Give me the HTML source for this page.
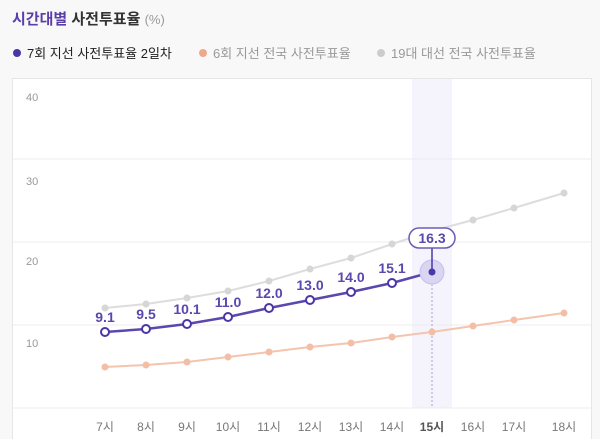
<!DOCTYPE html>
<html><head><meta charset="utf-8"><style>
body{margin:0;width:600px;height:439px;background:#f8f8f8;font-family:"Liberation Sans","Noto Sans CJK KR",sans-serif;overflow:hidden}
</style></head><body>
<svg width="600" height="439" xmlns="http://www.w3.org/2000/svg" style="position:absolute;left:0;top:0;font-family:'Liberation Sans','Noto Sans CJK KR',sans-serif">
<text x="12" y="24" font-size="15" font-weight="bold" fill="#5b3fa8">시간대별 <tspan fill="#333">사전투표율</tspan> <tspan font-weight="normal" fill="#999" font-size="13">(%)</tspan></text>
<circle cx="17" cy="53" r="4" fill="#4b36a6"/>
<text x="27" y="58" font-size="13" fill="#222">7회 지선 사전투표율 2일차</text>
<circle cx="203" cy="53" r="4" fill="#eea98a"/>
<text x="213" y="58" font-size="13" fill="#999">6회 지선 전국 사전투표율</text>
<circle cx="381" cy="53" r="4" fill="#ccc"/>
<text x="391" y="58" font-size="13" fill="#999">19대 대선 전국 사전투표율</text>
<rect x="12.5" y="78.5" width="579" height="370" fill="#fff" stroke="#e6e6e6"/>
<rect x="412" y="79" width="40" height="329" fill="#f5f4fd"/>
<g stroke="#ececec"><line x1="13" x2="591" y1="159" y2="159"/><line x1="13" x2="591" y1="242" y2="242"/><line x1="13" x2="591" y1="325" y2="325"/><line x1="13" x2="591" y1="408" y2="408"/></g>
<g font-size="11" fill="#999"><text x="26" y="101">40</text><text x="26" y="185">30</text><text x="26" y="265">20</text><text x="26" y="347">10</text></g>
<line x1="432" y1="272" x2="432" y2="408" stroke="#a99fd6" stroke-dasharray="2,2"/>
<polyline fill="none" stroke="#ddd" stroke-width="2" points="105,308 146,304 187,298 228,291 269,281 310,269 351,258 392,244 432,231 473,220 514,208 564,193"/>
<g fill="#d6d6d6"><circle cx="105" cy="308" r="3.5"/><circle cx="146" cy="304" r="3.5"/><circle cx="187" cy="298" r="3.5"/><circle cx="228" cy="291" r="3.5"/><circle cx="269" cy="281" r="3.5"/><circle cx="310" cy="269" r="3.5"/><circle cx="351" cy="258" r="3.5"/><circle cx="392" cy="244" r="3.5"/><circle cx="432" cy="231" r="3.5"/><circle cx="473" cy="220" r="3.5"/><circle cx="514" cy="208" r="3.5"/><circle cx="564" cy="193" r="3.5"/></g>
<polyline fill="none" stroke="#f4c4ad" stroke-width="2" points="105,367 146,365 187,362 228,357 269,352 310,347 351,343 392,337 432,332 473,326 514,320 564,313"/>
<g fill="#f3bea6"><circle cx="105" cy="367" r="3.5"/><circle cx="146" cy="365" r="3.5"/><circle cx="187" cy="362" r="3.5"/><circle cx="228" cy="357" r="3.5"/><circle cx="269" cy="352" r="3.5"/><circle cx="310" cy="347" r="3.5"/><circle cx="351" cy="343" r="3.5"/><circle cx="392" cy="337" r="3.5"/><circle cx="432" cy="332" r="3.5"/><circle cx="473" cy="326" r="3.5"/><circle cx="514" cy="320" r="3.5"/><circle cx="564" cy="313" r="3.5"/></g>
<polyline fill="none" stroke="#5b47ad" stroke-width="2.5" points="105,332 146,329 187,324 228,317 269,308 310,300 351,292 392,283 432,272"/>
<g fill="#fff" stroke="#4b36a6" stroke-width="2"><circle cx="105" cy="332" r="4"/><circle cx="146" cy="329" r="4"/><circle cx="187" cy="324" r="4"/><circle cx="228" cy="317" r="4"/><circle cx="269" cy="308" r="4"/><circle cx="310" cy="300" r="4"/><circle cx="351" cy="292" r="4"/><circle cx="392" cy="283" r="4"/></g>
<circle cx="432" cy="272" r="12" fill="#d9d5f3" stroke="#c5bfec"/>
<circle cx="432" cy="272" r="3.5" fill="#4b36a6"/>
<line x1="432" y1="248" x2="432" y2="272" stroke="#4b36a6" stroke-width="1.5"/>
<rect x="409" y="228" width="46" height="20" rx="10" fill="#fff" stroke="#6b5cb8" stroke-width="1.5"/>
<text x="432" y="243" font-size="14" font-weight="bold" fill="#5b47ad" text-anchor="middle">16.3</text>
<g font-size="14" font-weight="bold" fill="#5b47ad" text-anchor="middle">
<text x="105" y="322">9.1</text><text x="146" y="319">9.5</text><text x="187" y="314">10.1</text><text x="228" y="307">11.0</text><text x="269" y="298">12.0</text><text x="310" y="290">13.0</text><text x="351" y="282">14.0</text><text x="392" y="273">15.1</text></g>
<g font-size="12" fill="#777" text-anchor="middle">
<text x="105" y="431">7시</text><text x="146" y="431">8시</text><text x="187" y="431">9시</text><text x="228" y="431">10시</text><text x="269" y="431">11시</text><text x="310" y="431">12시</text><text x="351" y="431">13시</text><text x="392" y="431">14시</text><text x="432" y="431" font-weight="bold" fill="#555">15시</text><text x="473" y="431">16시</text><text x="514" y="431">17시</text><text x="564" y="431">18시</text></g>
</svg>
</body></html>
